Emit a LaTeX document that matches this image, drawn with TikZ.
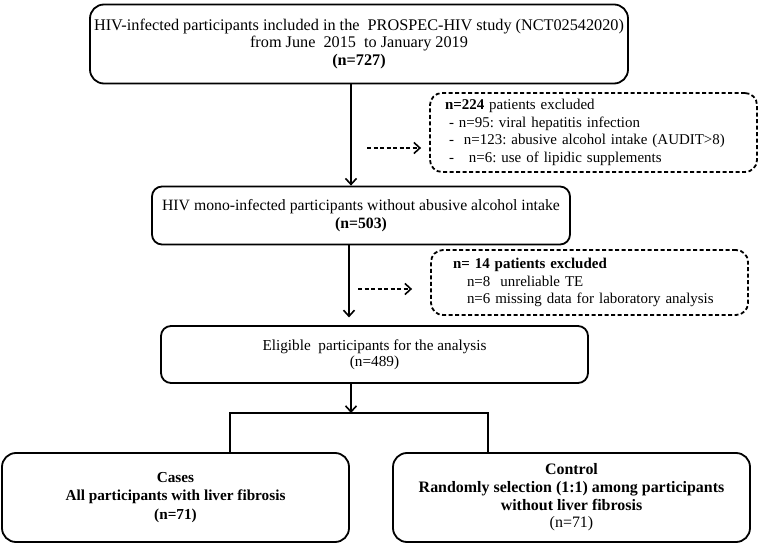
\documentclass[tikz,border=0pt]{standalone}
\usepackage{fontspec}
\setmainfont{Liberation Serif}
\usetikzlibrary{arrows.meta}
\frenchspacing
\begin{document}
\begin{tikzpicture}[x=1bp,y=-1bp,
  solidbox/.style={draw=black,line width=1.8bp,rounded corners=#1,inner sep=0pt,align=center},
  solidbox/.default=14bp,
  dashbox/.style={draw=black,line width=1.8bp,dash pattern=on 4bp off 2.5bp,rounded corners=12bp,inner ysep=0pt,align=left},
  arr/.style={line width=1.8bp,-{Straight Barb[length=6bp,width=11bp,line width=1.6bp]}},
  darr/.style={line width=1.8bp,dash pattern=on 4bp off 2.5bp,-{Straight Barb[length=6bp,width=11bp,line width=1.6bp]}},
  link/.style={line width=1.4bp},
  txt/.style={font=\fontsize{#1}{17.5}\selectfont},
  txt/.default=15.5
]
\useasboundingbox (0,0) rectangle (764,546);
\fill[white] (0,0) rectangle (764,546);

\node[solidbox,txt=16.3,minimum width=538bp,minimum height=79bp] (b1) at (359,44)
  {HIV-infected participants included in the \ PROSPEC-HIV study (NCT02542020)\\
   from June \ 2015 \ to January 2019\\
   \textbf{(n=727)}};

\node[dashbox,txt=15,minimum width=327bp,minimum height=79bp,text width=297bp,inner xsep=15bp] (e1) at (593.5,132.5)
  {\textbf{n=224} patients excluded\\
   \hspace*{4bp}- n=95: viral hepatitis infection\\
   \hspace*{4bp}- \ n=123: abusive alcohol intake (AUDIT>8)\\
   \hspace*{4bp}- \ \ n=6: use of lipidic supplements};

\node[solidbox=10bp,txt=15.8,minimum width=418bp,minimum height=58bp] (b2) at (361,215.5)
  {HIV mono-infected participants without abusive alcohol intake\\
   \textbf{(n=503)}};

\node[dashbox,txt=15,minimum width=317bp,minimum height=65bp,text width=273bp,inner xsep=22bp] (e2) at (589.5,282.5)
  {\textbf{n= 14 patients excluded}\\
   \hspace*{14bp}n=8 \ unreliable TE\\
   \hspace*{14bp}n=6 missing data for laboratory analysis};

\node[solidbox=10bp,font=\fontsize{15.3}{16}\selectfont,minimum width=427bp,minimum height=57bp] (b3) at (374.5,354.5)
  {\raisebox{0pt}[\height][0pt]{}Eligible \ participants for the analysis\\
   (n=489)};

\node[solidbox,font=\fontsize{15.3}{18.5}\selectfont,minimum width=347bp,minimum height=89bp] (b4) at (175.5,497.5)
  {\textbf{Cases}\\
   \textbf{All participants with liver fibrosis}\\
   \textbf{(n=71)}};

\node[solidbox,font=\fontsize{16}{17.7}\selectfont,minimum width=357bp,minimum height=89bp] (b5) at (571.5,497.5)
  {\textbf{Control}\\
   \textbf{Randomly selection (1:1) among participants}\\
   \textbf{without liver fibrosis}\\
   (n=71)};

\coordinate (a1) at (351,0);
\coordinate (a2) at (349,0);
\coordinate (d1) at (367,148);
\coordinate (d2) at (358,289);
\coordinate (split) at (351,413);
\coordinate (sl) at (230,413);
\coordinate (sr) at (488,413);

\draw[arr] (b1.south -| a1) -- (b2.north -| a1);
\draw[darr,shorten >=8bp] (d1) -- (d1 -| e1.west);
\draw[arr] (b2.south -| a2) -- ++(0,72);
\draw[darr,shorten >=18bp] (d2) -- (d2 -| e2.west);
\draw[arr] (b3.south -| split) -- (split);
\draw[link] (sl |- b4.north) -- (sl) -- (sr) -- (sr |- b5.north);
\end{tikzpicture}
\end{document}
